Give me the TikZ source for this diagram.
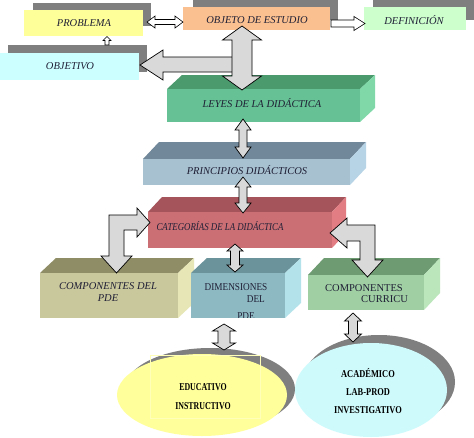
\documentclass[tikz,border=0pt]{standalone}
\usepackage{fontspec}
\setmainfont{Liberation Serif}
\usepackage{graphicx}
\definecolor{probY}{HTML}{FFFF99}
\definecolor{objO}{HTML}{FAC08F}
\definecolor{defG}{HTML}{CCFFCC}
\definecolor{objC}{HTML}{CCFFFF}
\definecolor{shad}{HTML}{7F7F7F}
\definecolor{txt}{HTML}{1F1F35}
\definecolor{arrG}{HTML}{D9D9D9}
\definecolor{leyesF}{HTML}{66C294}
\definecolor{leyesT}{HTML}{4B9A6E}
\definecolor{leyesS}{HTML}{80D8A9}
\definecolor{prinF}{HTML}{A7C1D1}
\definecolor{prinT}{HTML}{71889A}
\definecolor{prinS}{HTML}{B7D3E6}
\definecolor{catF}{HTML}{CB6F75}
\definecolor{catT}{HTML}{A4545A}
\definecolor{catS}{HTML}{E27D83}
\definecolor{pdeF}{HTML}{C9C79C}
\definecolor{pdeT}{HTML}{8F8D66}
\definecolor{pdeS}{HTML}{E6E6B7}
\definecolor{dimF}{HTML}{8DB9C3}
\definecolor{dimT}{HTML}{6B939C}
\definecolor{dimS}{HTML}{B4E2EA}
\definecolor{curF}{HTML}{A0CFA3}
\definecolor{curT}{HTML}{6E9B72}
\definecolor{curS}{HTML}{BBE6BB}
\definecolor{ellY}{HTML}{FFFF9C}
\definecolor{ellC}{HTML}{CFFAFC}
\newcommand\cuboid[8]{%
  \fill[#8T] (#2,#3) -- (#2+#6,#3-#7) -- (#4+#6,#3-#7) -- (#4,#3) -- cycle;
  \fill[#8S] (#4,#3) -- (#4+#6,#3-#7) -- (#4+#6,#5-#7) -- (#4,#5) -- cycle;
  \fill[#8F] (#2,#3) rectangle (#4,#5);
  \coordinate (#1) at ({(#2+#4)/2},{(#3+#5)/2});
}
% vertical double block arrow: x, ytop, ybot, shaft half, head half, head length
\newcommand\vdarrow[7][bigarrow]{%
  \draw[#1] (#2,#3) -- (#2+#6,#3+#7) -- (#2+#5,#3+#7) -- (#2+#5,#4-#7) -- (#2+#6,#4-#7)
    -- (#2,#4) -- (#2-#6,#4-#7) -- (#2-#5,#4-#7) -- (#2-#5,#3+#7) -- (#2-#6,#3+#7) -- cycle;
}
\tikzset{
  bigarrow/.style={fill=arrG, draw=black, line width=0.7pt, line join=miter},
  outarrow/.style={fill=white, draw=black, line width=0.6pt, line join=miter},
  tbox/.style={inner sep=0pt, text=txt, font=\fontsize{10.5}{12}\selectfont\itshape},
  ubox/.style={inner sep=0pt, text=txt, font=\fontsize{10.5}{12}\selectfont},
  etext/.style={inner sep=0pt, text=black, font=\fontsize{10.5}{12}\selectfont\bfseries},
}
\begin{document}
\begin{tikzpicture}[x=1pt, y=-1pt]
\useasboundingbox (0,0) rectangle (474,437);
\fill[white] (0,0) rectangle (474,437);

% ---- top row boxes with shadows
\fill[shad] (33,3) rectangle (151,26);
\fill[probY] (24,10) rectangle (143,36);
\node[tbox] (problema) at (84,23) {PROBLEMA};

\fill[shad] (193,0) rectangle (338,20);
\fill[objO] (183,7) rectangle (330,30);
\node[tbox] (objeto) at (257,20) {OBJETO DE ESTUDIO};

\fill[shad] (373,0) rectangle (474,20);
\fill[defG] (364,7) rectangle (466,30);
\node[tbox] (definicion) at (414,20) {DEFINICIÓN};

\fill[shad] (8,45) rectangle (147,72);
\fill[objC] (0,53) rectangle (139,80);
\node[tbox] (objetivo) at (70,66) {OBJETIVO};

% outline arrows top
\draw[outarrow] (147,22) -- (155,16) -- (155,19.5) -- (175,19.5) -- (175,16) -- (183,22)
  -- (175,28) -- (175,24.5) -- (155,24.5) -- (155,28) -- cycle;
\draw[outarrow] (331,20) -- (354,20) -- (354,16.5) -- (365,23.5) -- (354,30.5) -- (354,27) -- (331,27) -- cycle;
\draw[outarrow] (107,36.5) -- (111,40.5) -- (109,40.5) -- (109,45) -- (105,45) -- (105,40.5) -- (103,40.5) -- cycle;

% ---- cuboids
\cuboid{leyes}{167}{89}{360}{122}{15}{14}{leyes}
\node[tbox] (leyesT) at (262,103) {LEYES DE LA DIDÁCTICA};

% big arrows at top
\draw[bigarrow] (233,57) -- (163,57) -- (163,50) -- (140,65) -- (163,80) -- (163,72) -- (233,72) -- cycle;
\vdarrow{242}{26}{90}{10}{19.5}{14}

\cuboid{prin}{143}{159}{350}{185}{16}{17}{prin}
\node[tbox] (prinT) at (247,170) {PRINCIPIOS DIDÁCTICOS};

\cuboid{cat}{148}{212}{332}{248}{14}{15}{cat}
\node[tbox] (catT) at (220,226) {\scalebox{0.84}[1]{CATEGORÍAS DE LA DIDÁCTICA}};

\vdarrow{243}{119}{158}{4}{8}{11}
\vdarrow{243}{177}{213}{4}{8}{10}

\cuboid{pde}{40}{273}{178}{318}{16}{15}{pde}
\node[tbox, align=center] (pdeT) at (108,292.5) {COMPONENTES DEL\\PDE};

\cuboid{dim}{191}{273}{285}{318}{16}{15}{dim}
\node[ubox] (dimT1) at (236,287) {\scalebox{0.88}[1]{DIMENSIONES}};
\node[ubox, anchor=east] (dimT2) at (265,299) {\scalebox{0.88}[1]{DEL}};
\begin{scope}
\clip (191,273) rectangle (285,317);
\node[ubox] (dimT3) at (246,316) {\scalebox{0.88}[1]{PDE}};
\end{scope}

\cuboid{cur}{308}{275}{424}{310}{16}{17}{cur}
\node[ubox] (curT1) at (364,288) {COMPONENTES};
\node[ubox] (curT2) at (384.5,299) {CURRICU};

% bent arrows
\draw[bigarrow] (109,215) -- (137,215) -- (137,208) -- (150,222.5) -- (137,237) -- (137,230)
  -- (124,230) -- (124,256) -- (132,256) -- (116.5,273) -- (101,256) -- (109,256) -- cycle;
\draw[bigarrow] (375,225) -- (347,225) -- (347,218) -- (330,233) -- (347,248) -- (347,241)
  -- (360,241) -- (360,260) -- (352,260) -- (367.5,277) -- (383,260) -- (375,260) -- cycle;

\vdarrow{235}{244}{272}{4.5}{8}{7}

% ---- ellipses
\fill[shad] (210,389) ellipse [x radius=85, y radius=41];
\fill[ellY] (202,395) ellipse [x radius=85, y radius=41];
\draw[ellY!70!white, line width=0.6pt] (150,355) rectangle (260,418);
\node[etext] (edu) at (203,387) {\scalebox{0.75}[1]{EDUCATIVO}};
\node[etext] (ins) at (203,406) {\scalebox{0.75}[1]{INSTRUCTIVO}};

\fill[shad] (379,382) ellipse [x radius=76, y radius=47];
\fill[ellC] (371,390) ellipse [x radius=76, y radius=47];
\node[etext] (aca) at (368,373) {\scalebox{0.8}[1]{ACADÉMICO}};
\node[etext] (lab) at (368,392) {\scalebox{0.8}[1]{LAB-PROD}};
\node[etext] (inv) at (368,410) {\scalebox{0.8}[1]{INVESTIGATIVO}};

\vdarrow{224}{324}{350}{6}{11.5}{7}
\vdarrow{353}{313}{342}{4.5}{8.5}{8}
\end{tikzpicture}
\end{document}
